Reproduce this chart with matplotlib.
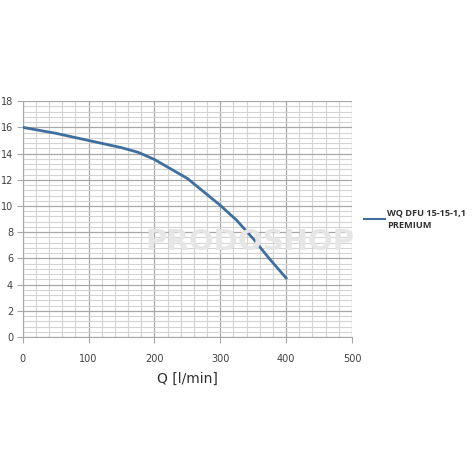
import matplotlib.pyplot as plt
from matplotlib.ticker import MultipleLocator

# pump curve
q = [0, 50, 100, 150, 175, 200, 250, 300, 325, 350, 375, 400]
h = [16, 15.55, 15.0, 14.45, 14.1, 13.55, 12.1, 10.05, 8.9, 7.5, 5.95, 4.5]
series_name = 'WQ DFU 15-15-1,1\nPREMIUM'

fig = plt.figure(figsize=(4.75, 4.75), dpi=100)
ax = fig.add_axes([0.048, 0.2905, 0.693, 0.4965])

ax.plot(q, h, color='#3e6f9f', lw=2, label=series_name, zorder=3)

ax.set_xlim(0, 500)
ax.set_ylim(0, 18)
ax.xaxis.set_major_locator(MultipleLocator(100))
ax.xaxis.set_minor_locator(MultipleLocator(20))
ax.yaxis.set_major_locator(MultipleLocator(2))
ax.yaxis.set_minor_locator(MultipleLocator(0.4))
ax.grid(which='major', color='#a8a8a8', lw=0.9)
ax.grid(which='minor', color='#d4d4d4', lw=0.8)
ax.set_axisbelow(True)

for s in ['top', 'right']:
    ax.spines[s].set_visible(False)
for s in ['left', 'bottom']:
    ax.spines[s].set_color('#a8a8a8')
ax.tick_params(which='major', length=4, color='#a8a8a8', labelsize=7,
               labelcolor='#404040', pad=3)
ax.tick_params(which='minor', length=0)
ax.tick_params(axis='x', pad=8)

ax.set_xlabel('Q [l/min]', fontsize=10, color='#303030', labelpad=6)

# faint watermark
fig.text(0.527, 0.49, 'PRODOSHOP', fontsize=21, fontweight='bold',
         color='#e6e6e6', ha='center', va='center', zorder=1)

leg = ax.legend(loc='center left', bbox_to_anchor=(1.01, 0.5), frameon=False,
                prop={'family': 'Open Sans', 'weight': 'bold', 'size': 6.6},
                handlelength=2.3, handletextpad=0.25, labelcolor='#303030')
leg.get_lines()[0].set_linewidth(1.5)
for t in leg.get_texts():
    t.set_linespacing(1.5)

plt.savefig('out.png', dpi=100)
